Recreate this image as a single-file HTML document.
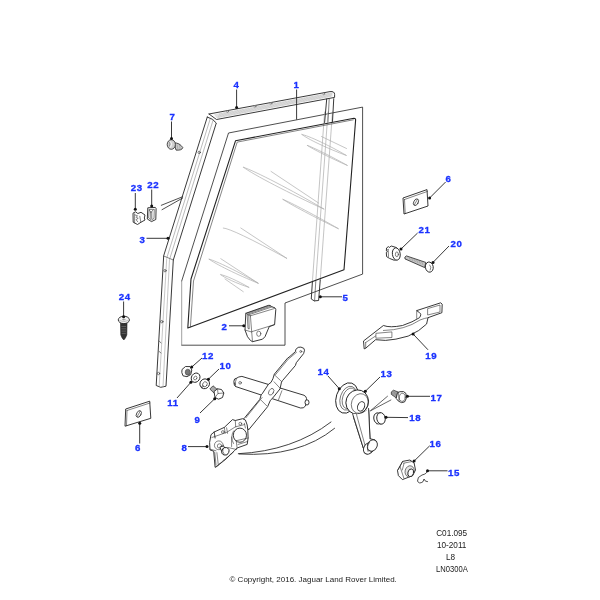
<!DOCTYPE html>
<html><head><meta charset="utf-8">
<style>
html,body{margin:0;padding:0;background:#fff;width:600px;height:600px;overflow:hidden}
svg{display:block;will-change:transform}
.l{fill:none;stroke:#222;stroke-width:0.9;stroke-linejoin:round;stroke-linecap:round}
.t{fill:none;stroke:#333;stroke-width:0.6;stroke-linecap:round}
.g{fill:none;stroke:#adadad;stroke-width:0.7;stroke-linecap:round}
.f{fill:#fff;stroke:#222;stroke-width:0.9;stroke-linejoin:round}
.ld{fill:none;stroke:#222;stroke-width:0.9}
.n{font-family:"Liberation Sans",sans-serif;font-weight:bold;font-size:9.7px;fill:#1a32ff;stroke:#1a32ff;stroke-width:0.3;letter-spacing:0.6px}
.c{font-family:"Liberation Sans",sans-serif;font-size:8px;fill:#222}
</style></head><body>
<svg width="600" height="600" viewBox="0 0 600 600">
<rect width="600" height="600" fill="#fff"/>

<!-- ===== Glass outer outline ===== -->
<path class="l" d="M181.7,281 L228.5,133 L362.6,107.1 L362.6,274.1 L285,303 L285,345.2 L181.7,345.2" style="stroke-width:0.8"/>
<path d="M181.7,281 L181.7,345.2" stroke="#888" stroke-width="0.8"/>

<!-- ===== Glass reflections ===== -->
<g class="g">
<path d="M302.0,134.5 C308.1,135.5 329.4,145.5 346.5,155.5 C328.0,148.7 306.6,138.6 302.0,134.5 Z"/>
<path d="M307.5,145.5 C312.7,147.1 331.9,156.7 347.5,165.5 C331.1,158.3 311.9,148.7 307.5,145.5 Z"/>
<path d="M321.5,136.5 L346.5,148.5"/>
<path d="M243.5,167.3 C254.1,170.6 292.8,190.7 324.2,209.2 C291.0,194.2 252.3,174.1 243.5,167.3 Z"/>
<path d="M271.0,171.4 L318.7,203.1"/>
<path d="M283.0,199.4 C290.1,202.1 316.8,216.2 338.6,228.8 C315.9,217.9 289.2,203.8 283.0,199.4 Z"/>
<path d="M223.3,228 Q232,228.5 286.7,258.3"/>
<path d="M240.8,228.0 L286.7,258.3"/>
<path d="M209.2,259.2 C215.8,260.7 239.4,272.2 258.3,283.3 C238.0,275.1 214.4,263.5 209.2,259.2 Z"/>
<path d="M220.8,258.7 L258.3,283.3"/>
<path d="M220.8,274.7 C224.8,275.0 238.4,281.2 249.2,287.5 C237.3,283.6 223.7,277.5 220.8,274.7 Z"/>
<path d="M225.0,279.0 L243.3,291.7"/>
</g>

<!-- ===== Channel 5 (rear) gray portion ===== -->
<g class="g" style="stroke:#aaa">
<path d="M324.6,112 L312.4,281.8"/>
<path d="M328,112 L315.75,281.8"/>
<path d="M332.5,112 L320.25,279.9"/>
</g>

<!-- ===== Glass thick ===== -->
<path class="l" d="M235.5,140.8 L354,118.3 Q355.8,118.4 355.6,120.2 L344,269.8 L187.8,328 L191,279 Z" style="stroke-width:1.1"/>
<path class="t" d="M353.3,119.8 L237.2,142.1 L193.5,281 L190.4,327"/>

<!-- ===== Channel 5 dark parts ===== -->
<path class="l" d="M326.7,99 L324.6,122.5 M333.75,98.7 L332.5,121.5"/>
<path class="t" d="M329.2,99 L328,122"/>
<path class="l" d="M312.4,281.8 L311.25,299 L314.25,300.9 L318.6,300.5 L320.25,279.9"/>
<path class="t" d="M315.75,281.8 L314.6,300.9"/>

<!-- ===== Top rail (4) ===== -->
<path d="M214.0,114.2 L332.5,92.2 L332.5,96.6 L216.5,118.3 Z" fill="#e2e2e2"/>
<path d="M218.0,117.9 L220.2,113.1 M219.6,117.6 L221.8,112.8 M221.2,117.3 L223.4,112.5 M222.8,117.0 L225.0,112.2 M224.4,116.7 L226.6,111.9 M226.0,116.4 L228.2,111.6 M227.6,116.1 L229.8,111.3 M229.2,115.8 L231.4,111.1 M230.8,115.5 L233.0,110.8 M232.4,115.2 L234.6,110.5 M234.0,114.9 L236.2,110.2 M235.6,114.6 L237.8,109.9 M237.2,114.3 L239.4,109.6 M238.8,114.0 L241.0,109.3 M240.4,113.7 L242.6,109.0 M242.0,113.4 L244.2,108.7 M243.6,113.1 L245.8,108.4 M245.2,112.8 L247.4,108.1 M246.8,112.5 L249.0,107.8 M248.4,112.2 L250.6,107.5 M250.0,111.9 L252.2,107.2 M251.6,111.6 L253.8,106.9 M253.2,111.3 L255.4,106.6 M254.8,111.0 L257.0,106.3 M256.4,110.7 L258.6,106.0 M258.0,110.4 L260.2,105.7 M259.6,110.1 L261.8,105.4 M261.2,109.8 L263.4,105.1 M262.8,109.5 L265.0,104.8 M264.4,109.2 L266.6,104.5 M266.0,108.9 L268.2,104.2 M267.6,108.6 L269.8,103.9 M269.2,108.3 L271.4,103.6 M270.8,108.0 L273.0,103.4 M272.4,107.7 L274.6,103.1 M274.0,107.4 L276.2,102.8 M275.6,107.1 L277.8,102.5 M277.2,106.8 L279.4,102.2 M278.8,106.5 L281.0,101.9 M280.4,106.2 L282.6,101.6 M282.0,105.9 L284.2,101.3 M283.6,105.6 L285.8,101.0 M285.2,105.3 L287.4,100.7 M286.8,105.0 L289.0,100.4 M288.4,104.7 L290.6,100.1 M290.0,104.4 L292.2,99.8 M291.6,104.1 L293.8,99.5 M293.2,103.8 L295.4,99.2 M294.8,103.6 L297.0,98.9 M296.4,103.3 L298.6,98.6 M298.0,103.0 L300.2,98.3 M299.6,102.7 L301.8,98.0 M301.2,102.4 L303.4,97.7 M302.8,102.1 L305.0,97.4 M304.4,101.8 L306.6,97.1 M306.0,101.5 L308.2,96.8 M307.6,101.2 L309.8,96.5 M309.2,100.9 L311.4,96.2 M310.8,100.6 L313.0,95.9 M312.4,100.3 L314.6,95.7 M314.0,100.0 L316.2,95.4 M315.6,99.7 L317.8,95.1 M317.2,99.4 L319.4,94.8 M318.8,99.1 L321.0,94.5 M320.4,98.8 L322.6,94.2 M322.0,98.5 L324.2,93.9 M323.6,98.2 L325.8,93.6 M325.2,97.9 L327.4,93.3 M326.8,97.6 L329.0,93.0 M328.4,97.3 L330.6,92.7 M330.0,97.0 L332.2,92.4" stroke="#b8b8b8" stroke-width="0.45"/>
<path class="l" d="M209,114 L330,91.6 Q334.6,91 334.6,94.5 L334.6,97.4 L216.5,119.5 L209,114"/>
<g class="t" style="stroke:#666;fill:#fff"><circle cx="227.5" cy="111.6" r="0.9"/><circle cx="255.0" cy="106.5" r="0.9"/><circle cx="271.0" cy="103.5" r="0.9"/><circle cx="323.8" cy="93.8" r="0.9"/></g>

<!-- ===== Channel 3 ===== -->
<path class="l" d="M207.3,117 L163.7,255.7 L156.2,385.5 L160.7,387.3 L166,386.2 L173.3,260 L216.3,123 Q213,118.5 207.3,117"/>
<path class="t" d="M163.7,256 L173.3,260"/>
<path class="t" style="stroke:#777;stroke-width:0.5" d="M210.4,118.2 L167,257.3 M213.2,119.8 L169.8,258.6"/>
<path class="g" d="M166.7,258.7 L159.2,386 M169.5,259.5 L163,387"/>
<g class="t"><circle cx="165" cy="270.7" r="1.2"/><circle cx="161.8" cy="321.7" r="1.2"/><circle cx="158.5" cy="373.5" r="1.2"/><circle cx="199.2" cy="152.4" r="1.2"/>
<path d="M159.2,341 L161,343 M159.2,351.5 L161,353"/></g>

<!-- wires by 22 -->
<path class="l" d="M182.7,196.7 L161.3,205.3 M182.7,198 L162,209.7" style="stroke-width:0.8"/>

<!-- ===== Piece 2 (glass clamp) ===== -->
<path class="f" d="M245.8,313.3 L268.3,305.4 L270,305.4 L271.7,306.7 L275,307.9 Q275.8,308.5 275.8,309.5 L274.6,324.6 L269.2,326.7 L265,336.7 L262.5,339.2 L252.5,341.7 L250.4,340.4 L247.5,336.7 L245,330 Z"/>
<path class="t" d="M250.4,315.8 L274.5,308.5 M250.4,315.8 L251.7,331.7 L274.6,324.6 M245.8,313.3 L250.4,315.8 M251.7,332 L252.5,341.5 M245,330 L251.7,332"/>
<path class="t" d="M247,313.2 L269.5,305.6 M248.2,313.9 L270.8,306.2 M249.3,314.6 L272,306.9 M247.2,315 L248,328.5 L249.2,329 L248.8,315.5 Z"/>
<ellipse class="t" cx="258.75" cy="333.75" rx="2.1" ry="2.6"/>

<!-- ===== Piece 7 screw ===== -->
<path d="M174,142.9 Q179.5,142.6 182.8,147.6 Q182,150.6 176,150.1 Z" fill="#ccc" stroke="#222" stroke-width="0.8" stroke-linejoin="round"/>
<path d="M177,144.5 L178,149.5 M179.5,145 L180.3,149.6" stroke="#888" stroke-width="0.5"/>
<ellipse cx="171.3" cy="144.5" rx="4.1" ry="4.8" fill="#d0d0d0" stroke="#222" stroke-width="0.8"/>
<path d="M170.5,141.5 Q172.5,144 170.5,147.5" stroke="#fff" stroke-width="0.9" fill="none"/>
<path d="M169.5,142 Q170.5,144 169.2,146.5" stroke="#555" stroke-width="0.5" fill="none"/>

<!-- ===== 22, 23 ===== -->
<path class="f" d="M147.8,207.8 L155.3,207.4 L156.1,208.6 L155.8,219.5 L151.5,221.6 L147.3,219 Z"/>
<path class="t" d="M149.5,209.5 L154.3,209.3 L154,218.5 L151.3,220 L149,218.2 Z M149.3,210 L151,212.5 L153,210 M150.6,212 L150.8,218.5 M151.8,212 L151.8,218.5"/>
<path class="f" d="M133,213.2 L135.5,211.8 L137.8,213.5 L141,212.3 L145,215 L144.3,218 L145,220 L141,222.2 L137.5,224.5 L133.2,222.2 Z"/>
<path class="t" d="M134.6,213.8 L134.6,222.8 M135.2,215 L137.5,215.7 L136.2,217.3 L138.2,218.3 L136,219.7 L137.8,221.8 M139.8,216.3 L140.8,222"/>

<!-- ===== Screw 24 ===== -->
<path d="M120.5,323.2 L127,323.2 L126.8,335 Q125.5,338.5 123.8,340 Q122,338.5 120.8,335 Z" fill="#333" stroke="#222" stroke-width="0.6"/>
<path d="M121.4,326.5 L126,326.5 M121.4,328.8 L126,328.8 M121.4,331.1 L126,331.1 M121.6,333.4 L125.8,333.4" stroke="#888" stroke-width="0.5"/>
<ellipse cx="123.85" cy="319.9" rx="5.6" ry="3.7" fill="#f2f2f2" stroke="#222" stroke-width="0.9"/>
<path d="M119.5,320.5 Q123.8,322.8 128.2,320.5" fill="none" stroke="#999" stroke-width="0.6"/>
<path d="M122,319.6 L125.6,319.6 M123.8,318.6 L123.8,320.6" stroke="#666" stroke-width="0.5"/>

<!-- ===== Plate 6 upper ===== -->
<path class="f" d="M403,198 L427,189.6 L428,206 L404,214 Z"/>
<path class="t" d="M404.5,199.5 L427.5,191.4 M404.5,199.5 L405.2,213.6"/>
<ellipse class="t" cx="416" cy="202.2" rx="2.2" ry="3.6" transform="rotate(28 416 202.2)" style="stroke-width:0.8"/>
<path class="t" d="M417.4,199.5 L414.3,204.8"/>

<!-- ===== Plate 6 lower ===== -->
<path class="f" d="M125.7,409 L149.7,401.2 L150.8,418.3 L125,426.2 Z"/>
<path class="t" d="M127,410.5 L150,403 M127,410.5 L126.5,425.7"/>
<ellipse class="t" cx="138.8" cy="414" rx="2.2" ry="3.6" transform="rotate(28 138.8 414)" style="stroke-width:0.8"/>
<path class="t" d="M140.2,411.3 L137.1,416.6"/>

<!-- ===== Grommet 21 ===== -->
<path class="f" d="M386.5,248 L388.5,246.6 L389.3,247.5 L391.2,246 L394,246.8 L396.5,247.6 L397.5,259.6 L394,260.2 L389.5,258.4 L386.6,256.6 L386.3,252.5 L387.4,251.8 L386.4,250.5 Z"/>
<path class="t" d="M388.2,249.5 L388.5,256.5 M386.5,250.5 L388.2,249.5"/>
<ellipse class="f" cx="396.3" cy="254" rx="3.9" ry="6.2" transform="rotate(-8 396.3 254)"/>
<ellipse class="t" cx="396.9" cy="254.3" rx="1.5" ry="2.4"/>

<!-- ===== Screw 20 ===== -->
<path d="M406.4,255.9 L425.8,262.4 L424.7,267.6 L405,258.9 Q404,257 406.4,255.9 Z" fill="#c4c4c4" stroke="#222" stroke-width="0.8"/>
<path d="M409,257.5 L410.5,260.2 M411.5,258.3 L413,261 M414,259.1 L415.5,262 M416.5,259.9 L418,263 M419,260.7 L420.5,264 M421.5,261.5 L423,265" stroke="#888" stroke-width="0.5"/>
<ellipse class="f" cx="429.3" cy="267.1" rx="3.9" ry="5.1" transform="rotate(-10 429.3 267.1)"/>
<path class="t" d="M429.8,265 Q431.8,267 430.3,270"/>

<!-- ===== Bracket 19 ===== -->
<path class="f" d="M363.5,341 L383.4,325.5 Q390,328 402.5,325.5 Q413,322 419.5,317.7 Q422,314 419.5,312.7 L416.7,310.6 L440.7,302.8 L442.2,304.2 L441.9,312.7 L428,317.7 L426.6,324 Q420,331 408.2,336.1 Q395,340 385.5,340.4 L375.6,339.7 L365.7,348.2 L364.2,348.9 Z"/>
<path class="t" d="M416.7,310.6 L416.7,318.4 M365.7,342.5 L375.6,336 M365.7,342.5 L365.7,348.2 M383.4,330.5 Q405,330 420,320 Q425,318 428,317.7"/>
<path class="t" d="M428,308.5 L440,305 L440,312 L428,314.9 Z"/>
<path class="t" d="M376.3,333.3 L391.9,331.9 L391.9,337.5 L376.3,338.2 Z"/>

<!-- ===== Nut 12, washers 11,10, bolt 9 ===== -->
<path class="f" d="M182,369.5 L185.5,366.5 L190,366.6 L191.8,370 L190.8,374.5 L187,376.7 L183,375.8 L181.8,372.5 Z"/>
<ellipse cx="187.8" cy="372.2" rx="2.6" ry="3" fill="#777" stroke="#333" stroke-width="0.5"/>
<ellipse class="f" cx="195.6" cy="377.7" rx="4.1" ry="4.9" transform="rotate(35 195.6 377.7)"/>
<ellipse class="t" cx="195.3" cy="378" rx="1.5" ry="2" transform="rotate(35 195.3 378)"/>
<ellipse class="f" cx="204.7" cy="383.8" rx="4.7" ry="5" transform="rotate(35 204.7 383.8)"/>
<ellipse class="t" cx="204.9" cy="384.3" rx="2.2" ry="2.7" transform="rotate(35 204.9 384.3)"/>
<path class="t" d="M201.2,386.8 L203.2,385.6 M201.8,387.8 L203.6,386.3"/>
<path d="M209.8,389 L213,385.8 L218,390 L214.5,393.5 Z" fill="#aaa" stroke="#222" stroke-width="0.7"/>
<path class="f" d="M214,391.5 L217.5,388.8 L221.5,389.5 L223.8,393 L222.5,397.5 L218.5,399.2 L215,397.5 Z"/>
<path class="t" d="M217.5,388.8 L218,393.5 L223.8,393 M218,393.5 L215,397.5"/>

<!-- ===== Regulator arm & crossbar ===== -->
<path class="f" d="M235.5,378.7 L236.4,378.3 Q238.5,376.6 241.9,376.4 L304,395.25 Q306.5,396.5 306.5,398.5 L305.5,406 Q303.5,408.6 300.5,408 L235.5,386.5 Q233.8,385.5 234.2,383 Z"/>
<ellipse class="f" cx="307" cy="402.4" rx="2" ry="2.6"/>
<path class="f" d="M236,378.6 L234.6,379 Q233.2,381.3 234.4,384 L235.6,384.2"/>
<circle class="t" cx="240.1" cy="382.8" r="1.3"/>
<path class="t" d="M236.4,378.5 Q235,381 235.5,386.5 M281.9,390.75 L278.5,399.75"/>
<path class="f" d="M295.8,349.4 Q298,346.5 300.9,347.1 Q305,348 304.5,350.3 L303.6,353.6 L296.3,362.7 L295.4,365.5 L282.5,380.6 L281.5,382.1 L280,388.9 L272.5,398.25 L270.4,400.3 L267.6,406.7 L248.5,430 L243,419.5 L244.7,417.7 L259.8,399.4 L261.2,394.8 L262.1,393.9 L268.5,384.2 L271,382.4 L272.9,378.8 L274.3,374.2 L287.6,358.1 L289,357.2 L295.4,351.7 Z"/>
<path class="t" d="M296.6,352.2 L290,357.8 L288.6,358.8 L275.4,374.8 M274,381.75 L280,388.1 M274.3,374.7 L281.6,381.5 M261.2,400.3 L266.7,405.8 M262.1,397.5 L246,417.7"/>
<ellipse class="t" cx="271.2" cy="391.8" rx="2.3" ry="3.6" transform="rotate(30 271.2 391.8)"/>
<circle class="t" cx="300.8" cy="351.5" r="1"/>

<!-- ===== Regulator base 8 ===== -->
<path class="f" d="M211,434.7 L214.2,432 L224.3,427.4 L232.5,419.6 L235.3,420.5 L242.6,418.7 L245.4,420 L247.2,425 L247.8,430 L248.1,438 L247.2,444.4 L237.1,448 L234.4,450.8 L226,459 L216,467 L215.1,467.3 L213.7,451.2 L210,449.9 L209.6,442.5 Z"/>
<path class="t" d="M211.9,437.5 L226.6,432.4 L235.3,426.9 L244.4,424.6 M214.2,432 L215,438 M224.3,427.4 L225.2,433 M235.3,420.5 L235.7,426.9 M209.6,449 L216,450.8"/>
<circle class="t" cx="222.9" cy="432" r="1.4"/>
<circle class="t" cx="240.3" cy="423.7" r="1.4"/>
<ellipse class="f" cx="239.9" cy="435.2" rx="6.6" ry="7.1"/>
<path class="t" d="M233.5,431 Q230,437 233.5,443.5"/>
<path class="t" d="M236.2,440.7 L248.1,438 M237.1,448 L236.2,440.7 M238,444.5 L247.5,441.5"/>
<path class="t" d="M214.8,452.5 L216,465 M216,466.5 L218,465.5 L219.5,463.5 L221.5,462.5 L223,460.5 L225,459.5 L226.5,457.5 L228.5,456.5 L230,454.5 L232,453.5 L233.5,451.5"/>
<circle class="t" cx="218.8" cy="445.3" r="4.4"/>
<circle class="t" cx="219.5" cy="446" r="2.2"/>
<path class="t" d="M216.9,452.6 L218.3,465 M214.2,432 L215.1,437.9 M226.6,427.8 L227.5,433.3 M244.4,423.3 L245.4,428 M231.6,437 L231.6,446.5 M228,447.5 L236.5,449.5"/>
<path class="f" d="M219.8,447 L223.5,446 L226,449.5 L222,452 Z"/>
<ellipse class="f" cx="225.4" cy="451.3" rx="3.5" ry="3.9" transform="rotate(20 225.4 451.3)"/>
<path class="t" d="M223,448.5 Q222,451.5 224,454"/>

<!-- cables -->
<path class="l" d="M238.3,453.7 Q293,451 331,422" style="stroke-width:0.85"/>
<path class="l" d="M239.2,454 Q299,457.5 334.6,428.3" style="stroke-width:0.85"/>

<!-- ===== Cup washer 14 ===== -->
<ellipse class="f" cx="347" cy="398" rx="10.8" ry="15.6" transform="rotate(18 347 398)"/>
<ellipse class="t" cx="348.3" cy="398.2" rx="8" ry="12.3" transform="rotate(18 348.3 398.2)"/>
<ellipse class="t" cx="349.2" cy="398.3" rx="6.6" ry="10.6" transform="rotate(18 349.2 398.3)"/>

<!-- ===== Handle 13 ===== -->
<path class="f" d="M353.3,416.7 L363.3,448 L372,452 L375,440 L370,438.7 L368.7,410 Z"/>
<ellipse class="f" cx="357.2" cy="402" rx="11.2" ry="12.2" transform="rotate(20 357.2 402)"/>
<ellipse class="t" cx="359.8" cy="403.5" rx="8.3" ry="10" transform="rotate(20 359.8 403.5)"/>
<ellipse class="f" cx="361.1" cy="406.4" rx="3.4" ry="4.9" transform="rotate(22 361.1 406.4)"/>
<path d="M353.3,416.7 L352.5,413.5 L357,414.2 L362.5,413.2 L366.5,410.5 L368.7,408.5 L370,438.7 L363.3,448 Z" fill="#fff"/>
<path class="t" d="M356.5,414.5 L365.2,446"/>
<path class="l" d="M352.6,413.8 L363.3,448 M368.6,408.5 L370,438.7"/>
<ellipse class="f" cx="368.5" cy="448.5" rx="4.7" ry="6" transform="rotate(30 368.5 448.5)"/>
<ellipse class="f" cx="372.3" cy="445.5" rx="4.7" ry="6" transform="rotate(30 372.3 445.5)"/>
<path class="t" d="M369.5,442.5 Q366.5,446 368,451.5"/>
<path class="l" d="M387.5,396.25 L370.3,410.9 L390.9,400" style="stroke-width:0.7"/>

<!-- ===== Bolt 17 ===== -->
<path d="M393.5,390.2 L398.4,392.1 L396.1,397.8 L391.3,394.4 Q390.3,391.5 393.5,390.2 Z" fill="#aaa" stroke="#222" stroke-width="0.7"/>
<path d="M393.8,391 L392.2,394.6 M395,391.5 L393.5,395.5 M396.3,392 L394.8,396.4 M397.5,392.6 L396,397" stroke="#666" stroke-width="0.4"/>
<path class="f" d="M397.5,392.6 L400,391.7 L403.5,391.6 L406,393.5 L406.3,398.5 L404.5,402 L401.5,402.6 L398.5,401.2 L396.2,398.5 Z"/>
<ellipse class="t" cx="402.3" cy="397.3" rx="3" ry="4.1" transform="rotate(10 402.3 397.3)"/>
<path class="t" d="M398.5,392.5 L399,401"/>

<!-- ===== Knob 18 ===== -->
<ellipse class="f" cx="377.6" cy="418.4" rx="3.8" ry="5.4" transform="rotate(-10 377.6 418.4)"/>
<path class="f" d="M377.5,413 L381,412.6 Q386,413.5 386,418.3 Q385.8,423 381,424.3 L377.5,423.8 Z" style="stroke:none"/>
<ellipse class="f" cx="381" cy="418.4" rx="4.2" ry="5.8" transform="rotate(-10 381 418.4)"/>
<path class="t" d="M377,413 L380.6,412.6 M376.6,423.8 L380.8,424.2"/>

<!-- ===== Nut 16 ===== -->
<path class="f" d="M402.6,461.4 L409.9,460 L414.1,463 L415.5,470 L412.7,475.6 L402.4,479.6 L398.4,475.6 L397.5,470.5 Z"/>
<path class="t" d="M402.6,461.4 L400,466.5 L397.5,470.5 M400,466.5 L403.8,478 M403.5,463.2 L411.5,461.6 M404,463.5 L402.3,470"/>
<ellipse cx="409.6" cy="471.3" rx="4.5" ry="5.6" transform="rotate(15 409.6 471.3)" fill="#e4e4e4" stroke="#333" stroke-width="0.6"/>
<ellipse class="f" cx="410.7" cy="472.8" rx="2.8" ry="3.9" transform="rotate(15 410.7 472.8)"/>

<!-- ===== Clip 15 ===== -->
<path class="l" d="M427.5,470.8 Q427,474 422,475 Q417,477 417.5,481 Q419,484.5 423,481.7 L424,479 Q425,482 427.5,481.7" style="stroke-width:0.8"/>

<!-- ===== Leader lines ===== -->
<g class="ld">
<path d="M296.6,89.5 L296.6,119.6"/>
<path d="M236.6,89.5 L236.6,107.5"/>
<path d="M171.5,121.5 L171.5,138.5"/>
<path d="M135.3,193 L135.3,209.3"/>
<path d="M151.7,189.5 L151.7,206"/>
<path d="M146.5,238.3 L168,238.3"/>
<path d="M123.6,301.5 L123.6,316.7"/>
<path d="M229,325.8 L243.8,325.8"/>
<path d="M320.3,296.8 L342,296.8"/>
<path d="M445.6,182 L429.6,198"/>
<path d="M417.6,233 L401,249"/>
<path d="M449,246 L433,262.4"/>
<path d="M428,349.8 L413.1,334"/>
<path d="M202,358 L191.75,367"/>
<path d="M219,369 L208.4,379.2"/>
<path d="M177,398 L190.9,382.3"/>
<path d="M200,413 L214.7,398.75"/>
<path d="M139.7,443.5 L139.7,423.2"/>
<path d="M188,446.6 L207,446.6"/>
<path d="M328,376 L339.3,388.7"/>
<path d="M380,377 L365.3,391.3"/>
<path d="M430,396.3 L407.4,396.3"/>
<path d="M408,417.6 L386,417.3"/>
<path d="M429.7,445.8 L414.1,461.1"/>
<path d="M447.5,470.8 L427.5,470.8"/>
</g>
<g fill="#111">
<circle cx="236.6" cy="107.5" r="1.5"/>
<circle cx="171.5" cy="138.5" r="1.5"/>
<circle cx="135.3" cy="209.3" r="1.5"/>
<circle cx="151.7" cy="206" r="1.5"/>
<circle cx="168" cy="238.3" r="1.5"/>
<circle cx="123.6" cy="316.7" r="1.5"/>
<circle cx="243.8" cy="325.8" r="1.5"/>
<circle cx="320.3" cy="296.8" r="1.5"/>
<circle cx="429.6" cy="198" r="1.5"/>
<circle cx="401" cy="249" r="1.5"/>
<circle cx="433" cy="262.4" r="1.5"/>
<circle cx="413.1" cy="334" r="1.5"/>
<circle cx="191.75" cy="367" r="1.5"/>
<circle cx="208.4" cy="379.2" r="1.5"/>
<circle cx="190.9" cy="382.3" r="1.5"/>
<circle cx="214.7" cy="398.75" r="1.5"/>
<circle cx="139.7" cy="423.2" r="1.5"/>
<circle cx="207" cy="446.6" r="1.5"/>
<circle cx="339.3" cy="388.7" r="1.5"/>
<circle cx="365.3" cy="391.3" r="1.5"/>
<circle cx="407.4" cy="396.3" r="1.5"/>
<circle cx="386" cy="417.3" r="1.5"/>
<circle cx="414.1" cy="461.1" r="1.5"/>
<circle cx="427.5" cy="470.8" r="1.5"/>
</g>

<!-- ===== Labels ===== -->
<g class="n">
<text x="293.6" y="87.8">1</text>
<text x="233.6" y="88.2">4</text>
<text x="169.6" y="119.8">7</text>
<text x="130.8" y="191.1">23</text>
<text x="147.2" y="187.8">22</text>
<text x="139.4" y="242.8">3</text>
<text x="118.8" y="300.1">24</text>
<text x="221.6" y="329.8">2</text>
<text x="342.6" y="300.8">5</text>
<text x="445.6" y="182.2">6</text>
<text x="418.6" y="233.3">21</text>
<text x="450.5" y="246.8">20</text>
<text x="425.2" y="358.8">19</text>
<text x="202" y="359.1">12</text>
<text x="219.6" y="369.4">10</text>
<text x="167.2" y="405.8">11</text>
<text x="194.6" y="422.8">9</text>
<text x="135.1" y="450.8">6</text>
<text x="181.6" y="450.8">8</text>
<text x="317.6" y="374.8">14</text>
<text x="380.6" y="377.4">13</text>
<text x="430.6" y="400.8">17</text>
<text x="409.2" y="421.4">18</text>
<text x="429.6" y="447.3">16</text>
<text x="447.9" y="475.6">15</text>
</g>

<!-- ===== Footer text ===== -->
<g class="c" text-anchor="middle" style="font-size:8.2px">
<text x="451.7" y="535.7">C01.095</text>
<text x="451.7" y="548">10-2011</text>
<text x="450.6" y="560.2">L8</text>
<text x="451.9" y="572.2" textLength="31.8" lengthAdjust="spacingAndGlyphs">LN0300A</text>
</g>
<text class="c" x="229.5" y="581.6">© Copyright, 2016. Jaguar Land Rover Limited.</text>
</svg>
</body></html>
